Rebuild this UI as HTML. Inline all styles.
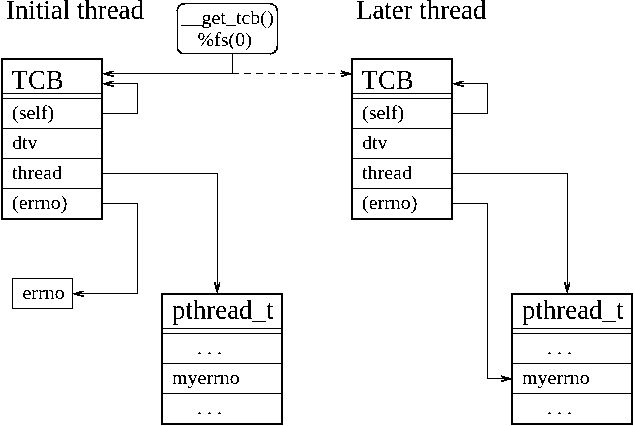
<!DOCTYPE html>
<html><head><meta charset="utf-8">
<style>
html,body{margin:0;padding:0;background:#fff;width:634px;height:426px;overflow:hidden}
svg{display:block}
text{font-family:"Liberation Serif",serif;fill:#000}
</style></head><body>
<svg width="634" height="426" viewBox="0 0 634 426">
<defs><filter id="th" x="0" y="0" width="634" height="426" filterUnits="userSpaceOnUse"><feComponentTransfer><feFuncA type="discrete" tableValues="0 0 0 0 0 0 0 0 0 1 1 1 1 1 1 1 1 1 1 1"/></feComponentTransfer></filter></defs>
<rect x="0" y="0" width="634" height="426" fill="#fff"/>
<g shape-rendering="crispEdges">
<rect x="2" y="59" width="100" height="160" fill="none" stroke="#000" stroke-width="2"/>
<path d="M3,93.5H101M3,98.5H101M3,128.5H101M3,158.5H101M3,188.5H101" stroke="#000" stroke-width="1"/>
<rect x="162" y="294" width="120" height="130" fill="none" stroke="#000" stroke-width="2"/>
<path d="M163,328.5H281M163,333.5H281M163,363.5H281M163,393.5H281" stroke="#000" stroke-width="1"/>
<path d="M103,83.5H137.5V113.5H103" fill="none" stroke="#000" stroke-width="1"/>
<path d="M103,173.5H217.5V292" fill="none" stroke="#000" stroke-width="1"/>
<rect x="352" y="59" width="100" height="160" fill="none" stroke="#000" stroke-width="2"/>
<path d="M353,93.5H451M353,98.5H451M353,128.5H451M353,158.5H451M353,188.5H451" stroke="#000" stroke-width="1"/>
<rect x="512" y="294" width="120" height="130" fill="none" stroke="#000" stroke-width="2"/>
<path d="M513,328.5H631M513,333.5H631M513,363.5H631M513,393.5H631" stroke="#000" stroke-width="1"/>
<path d="M453,83.5H487.5V113.5H453" fill="none" stroke="#000" stroke-width="1"/>
<path d="M453,173.5H567.5V292" fill="none" stroke="#000" stroke-width="1"/>

<path d="M103,73.5H239M232.5,54V73" fill="none" stroke="#000" stroke-width="1"/>
<path d="M244,73.5H336" fill="none" stroke="#000" stroke-width="1" stroke-dasharray="7 5"/>
<path d="M103,203.5H137.5V293.5H74" fill="none" stroke="#000" stroke-width="1"/>
<rect x="12.5" y="278.5" width="60" height="30" fill="none" stroke="#000" stroke-width="1"/>
<path d="M453,203.5H487.5V378.5H510" fill="none" stroke="#000" stroke-width="1"/>
<path d="M199,352h1v1h1v1h-3v-1h1zM209,352h1v1h1v1h-3v-1h1zM219,352h1v1h1v1h-3v-1h1zM199,412h1v1h1v1h-3v-1h1zM209,412h1v1h1v1h-3v-1h1zM219,412h1v1h1v1h-3v-1h1zM549,352h1v1h1v1h-3v-1h1zM559,352h1v1h1v1h-3v-1h1zM569,352h1v1h1v1h-3v-1h1zM549,412h1v1h1v1h-3v-1h1zM559,412h1v1h1v1h-3v-1h1zM569,412h1v1h1v1h-3v-1h1zM109,71h5v1h-5zM106,72h6v1h-6zM103,73h11v1h-11zM104,74h6v1h-6zM107,75h7v1h-7zM111,76h3v1h-3zM109,81h5v1h-5zM106,82h6v1h-6zM103,83h11v1h-11zM104,84h6v1h-6zM107,85h7v1h-7zM111,86h3v1h-3zM459,81h5v1h-5zM456,82h6v1h-6zM453,83h11v1h-11zM454,84h6v1h-6zM457,85h7v1h-7zM461,86h3v1h-3zM79,291h5v1h-5zM76,292h6v1h-6zM73,293h11v1h-11zM74,294h6v1h-6zM77,295h7v1h-7zM81,296h3v1h-3zM341,70h1v1h-1zM341,71h4v1h-4zM342,72h7v1h-7zM340,73h11v1h-11zM344,74h7v1h-7zM341,75h6v1h-6zM341,76h3v1h-3zM501,375h1v1h-1zM501,376h4v1h-4zM502,377h7v1h-7zM500,378h11v1h-11zM504,379h7v1h-7zM501,380h6v1h-6zM501,381h3v1h-3zM214,282h2v1h-2zM217,282h1v1h-1zM219,282h1v1h-1zM214,283h2v1h-2zM217,283h1v1h-1zM219,283h1v1h-1zM214,284h2v1h-2zM217,284h3v1h-3zM215,285h5v1h-5zM215,286h5v1h-5zM215,287h4v1h-4zM215,288h4v1h-4zM216,289h3v1h-3zM216,290h2v1h-2zM216,291h2v1h-2zM217,292h1v1h-1zM564,282h2v1h-2zM567,282h1v1h-1zM569,282h1v1h-1zM564,283h2v1h-2zM567,283h1v1h-1zM569,283h1v1h-1zM564,284h2v1h-2zM567,284h3v1h-3zM565,285h5v1h-5zM565,286h5v1h-5zM565,287h4v1h-4zM565,288h4v1h-4zM566,289h3v1h-3zM566,290h2v1h-2zM566,291h2v1h-2zM567,292h1v1h-1z" fill="#000"/>
</g>
<path d="M181,3h92v1h-92zM180,4h5v1h-5zM270,4h4v1h-4zM178,5h3v1h-3zM273,5h3v1h-3zM178,6h2v1h-2zM275,6h2v1h-2zM177,7h2v1h-2zM275,7h2v1h-2zM177,8h2v1h-2zM276,8h2v1h-2zM177,9h1v1h-1zM276,9h2v1h-2zM176,10h2v1h-2zM276,10h2v1h-2zM177,45h1v1h-1zM277,45h1v1h-1zM177,46h1v1h-1zM276,46h2v1h-2zM177,47h1v1h-1zM276,47h2v1h-2zM177,48h1v1h-1zM276,48h2v1h-2zM177,49h2v1h-2zM276,49h2v1h-2zM177,50h3v1h-3zM274,50h3v1h-3zM178,51h3v1h-3zM274,51h2v1h-2zM179,52h3v1h-3zM272,52h4v1h-4zM180,53h94v1h-94zM270,54h1v1h-1zM177,11h1v34h-1zM277,11h1v34h-1z" fill="#000" shape-rendering="crispEdges"/>
<g filter="url(#th)">
<text transform="translate(6,19) scale(1.01,1)" font-size="26.6">Initial thread</text>
<text transform="translate(356,19) scale(1.01,1)" font-size="26.6">Later thread</text>
<text transform="translate(181.5,24) scale(1.0526,1)" font-size="19">__get_tcb()</text>
<text transform="translate(197.5,46) scale(1.0526,1)" font-size="19">%fs(0)</text>
<text transform="translate(22.5,299) scale(1.0526,1)" font-size="19">errno</text>
<text transform="translate(11.5,89) scale(1.01,1)" font-size="26.6">TCB</text>
<text transform="translate(12,119) scale(1.0526,1)" font-size="19">(self)</text>
<text transform="translate(12,149) scale(1.0526,1)" font-size="19">dtv</text>
<text transform="translate(12,179) scale(1.0526,1)" font-size="19">thread</text>
<text transform="translate(12,209) scale(1.0526,1)" font-size="19">(errno)</text>
<text transform="translate(172,319) scale(1.01,1)" font-size="26.6">pthread_t</text>
<text transform="translate(172,384) scale(1.0526,1)" font-size="19">myerrno</text>
<text transform="translate(361.5,89) scale(1.01,1)" font-size="26.6">TCB</text>
<text transform="translate(362,119) scale(1.0526,1)" font-size="19">(self)</text>
<text transform="translate(362,149) scale(1.0526,1)" font-size="19">dtv</text>
<text transform="translate(362,179) scale(1.0526,1)" font-size="19">thread</text>
<text transform="translate(362,209) scale(1.0526,1)" font-size="19">(errno)</text>
<text transform="translate(522,319) scale(1.01,1)" font-size="26.6">pthread_t</text>
<text transform="translate(522,384) scale(1.0526,1)" font-size="19">myerrno</text>
</g>
</svg>
</body></html>
